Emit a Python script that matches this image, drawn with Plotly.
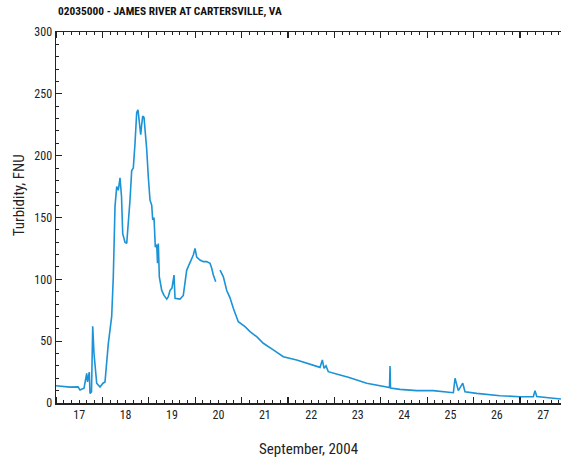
import plotly.graph_objects as go

title_text = "02035000 - JAMES RIVER AT CARTERSVILLE, VA"
y_title = "Turbidity, FNU"
x_title = "September, 2004"

times = [
    "2004-09-17 00:00", "2004-09-17 03:06", "2004-09-17 07:15", "2004-09-17 11:23",
    "2004-09-17 12:25", "2004-09-17 14:29", "2004-09-17 15:53", "2004-09-17 16:18",
    "2004-09-17 17:13", "2004-09-17 17:35", "2004-09-17 18:22", "2004-09-17 18:59",
    "2004-09-17 19:39", "2004-09-17 21:03", "2004-09-17 22:45",
    "2004-09-18 00:18", "2004-09-18 01:20", "2004-09-18 03:03", "2004-09-18 04:48",
    "2004-09-18 05:38", "2004-09-18 06:31", "2004-09-18 07:24", "2004-09-18 08:13",
    "2004-09-18 09:06", "2004-09-18 09:53", "2004-09-18 10:30", "2004-09-18 11:41",
    "2004-09-18 12:34", "2004-09-18 13:24", "2004-09-18 14:16", "2004-09-18 15:09",
    "2004-09-18 15:59", "2004-09-18 16:52", "2004-09-18 17:44", "2004-09-18 18:24",
    "2004-09-18 19:05", "2004-09-18 19:48", "2004-09-18 20:19", "2004-09-18 20:50",
    "2004-09-18 21:31", "2004-09-18 22:02", "2004-09-18 22:55", "2004-09-18 23:44",
    "2004-09-19 00:37", "2004-09-19 01:30", "2004-09-19 02:01", "2004-09-19 02:41",
    "2004-09-19 03:22", "2004-09-19 04:05", "2004-09-19 04:30", "2004-09-19 04:55",
    "2004-09-19 05:26", "2004-09-19 06:41", "2004-09-19 07:52", "2004-09-19 09:16",
    "2004-09-19 10:05", "2004-09-19 10:58", "2004-09-19 12:00", "2004-09-19 13:02",
    "2004-09-19 13:33", "2004-09-19 16:08", "2004-09-19 17:50", "2004-09-19 19:36",
    "2004-09-19 21:18", "2004-09-19 23:01", "2004-09-19 23:54",
    "2004-09-20 00:46", "2004-09-20 02:28", "2004-09-20 04:11", "2004-09-20 05:55",
    "2004-09-20 07:39", "2004-09-20 08:32", "2004-09-20 09:22", "2004-09-20 10:36",
    "2004-09-20 11:40",
    "2004-09-20 12:50", "2004-09-20 14:33", "2004-09-20 16:18", "2004-09-20 18:00",
    "2004-09-20 19:42", "2004-09-20 22:17",
    "2004-09-21 01:45", "2004-09-21 04:20", "2004-09-21 07:48", "2004-09-21 11:13",
    "2004-09-21 16:23", "2004-09-21 21:33",
    "2004-09-22 04:29", "2004-09-22 11:22", "2004-09-22 16:32", "2004-09-22 17:44",
    "2004-09-22 18:37", "2004-09-22 19:39", "2004-09-22 20:50",
    "2004-09-23 02:53", "2004-09-23 07:11", "2004-09-23 16:42", "2004-09-23 23:35",
    "2004-09-24 04:29", "2004-09-24 04:45", "2004-09-24 05:00", "2004-09-24 09:55",
    "2004-09-24 18:33",
    "2004-09-25 03:00", "2004-09-25 13:30", "2004-09-25 14:22", "2004-09-25 16:04",
    "2004-09-25 18:21", "2004-09-25 19:32",
    "2004-09-26 01:35", "2004-09-26 13:39",
    "2004-09-27 00:00", "2004-09-27 06:52", "2004-09-27 07:44", "2004-09-27 08:38",
    "2004-09-27 17:13", "2004-09-27 21:10",
]

turbidity = [
    14, 13.5, 12.8, 13,
    10.5, 12, 24, 17,
    25, 7.8, 9, 62,
    40, 16, 13,
    16, 17, 48, 70,
    102, 159, 175, 172,
    182, 167, 137, 130,
    129, 145, 164, 188,
    190, 210, 235, 237,
    226, 217, 225, 232,
    231, 223, 205, 183,
    164, 160, 148, 150,
    126, 128, 113, 129,
    102, 91, 87, 84,
    86, 91, 93, 103.5,
    84.7, 84, 87, 107.5,
    113, 119.7, 125,
    118, 115.6, 114.3, 114.3,
    113, 109, 103.5, 98,
    None,
    107.5, 102, 91, 85,
    76.6, 65.7,
    61.7, 57.7, 53.6, 48.3,
    42.9, 37.4,
    34.8, 31.5, 28.8, 34.8,
    28, 30, 25.3,
    22.6, 20.8, 15.9, 13.7,
    12.5, 29.9, 12, 11,
    10,
    10, 8.3, 20, 10,
    16, 9.1,
    7.8, 5.9,
    5.1, 5.1, 10, 5.2,
    3.8, 3.2,
]

y_tick_vals = [0, 50, 100, 150, 200, 250, 300]

font_family = "Liberation Sans Narrow, Roboto Condensed, DejaVu Sans Condensed, Arial Narrow, sans-serif"

fig = go.Figure()
fig.add_trace(go.Scatter(
    x=times, y=turbidity, mode="lines",
    line=dict(color="#1b93d6", width=1.6),
    connectgaps=False, hoverinfo="skip", showlegend=False,
))

fig.update_layout(
    template="none",
    width=561, height=460,
    margin=dict(l=56, r=0, t=32, b=57, autoexpand=False),
    paper_bgcolor="white", plot_bgcolor="white",
    font=dict(family=font_family, color="#222222", size=12),
    showlegend=False,
)

fig.update_xaxes(
    type="date", automargin=False,
    range=["2004-09-17 00:00", "2004-09-27 21:10"],
    tick0="2004-09-17", dtick=86400000,
    tickformat="%d", ticklabelmode="period",
    ticks="inside", ticklen=6, tickwidth=1.2, tickcolor="#222222",
    showline=True, linecolor="#222222", linewidth=1.5,
    mirror="ticks", showgrid=False, zeroline=False,
    tickfont=dict(size=12, family=font_family, color="#222222"),
    minor=dict(dtick=4 * 3600000, ticks="inside", ticklen=3, tickcolor="#222222", tickwidth=1, showgrid=False),
)

fig.update_yaxes(
    range=[0, 300], automargin=False,
    tickvals=y_tick_vals,
    ticks="inside", ticklen=6, tickwidth=1.2, tickcolor="#222222",
    showline=True, linecolor="#222222", linewidth=1.5,
    showgrid=False, zeroline=False,
    tickfont=dict(size=12, family=font_family, color="#222222"),
    minor=dict(dtick=10, ticks="inside", ticklen=3, tickcolor="#222222", tickwidth=1, showgrid=False),
)

fig.add_annotation(
    text=title_text, xref="paper", yref="paper", x=0, y=1,
    xanchor="left", yanchor="bottom", yshift=12, xshift=0, showarrow=False,
    font=dict(size=11.4, family=font_family, color="#111111", weight="bold"),
)
fig.add_annotation(
    text=y_title, xref="paper", yref="paper", x=0, y=0.56,
    xanchor="center", yanchor="middle", xshift=-37, textangle=-90, showarrow=False,
    font=dict(size=15, family=font_family, color="#222222"),
)
fig.add_annotation(
    text=x_title, xref="paper", yref="paper", x=0.5, y=0,
    xanchor="center", yanchor="middle", yshift=-46, showarrow=False,
    font=dict(size=15, family=font_family, color="#222222"),
)

fig.write_html(
    "out.html",
    config={"displayModeBar": False, "staticPlot": True},
    post_script="document.body.style.margin='0';document.body.style.overflow='hidden';",
)
